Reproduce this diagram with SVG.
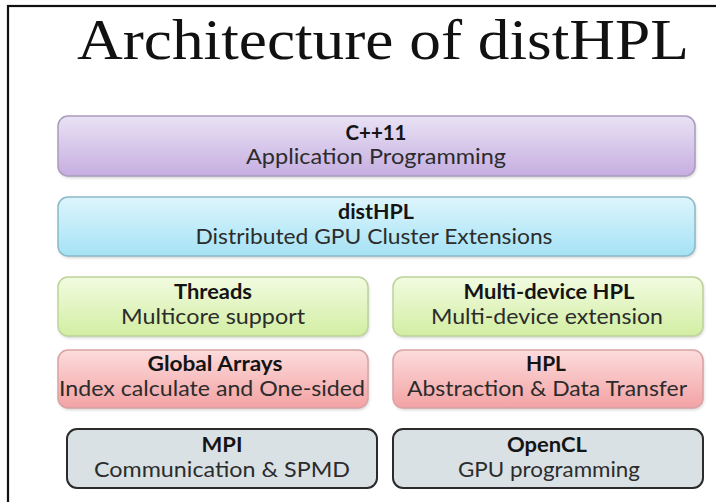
<svg xmlns="http://www.w3.org/2000/svg" width="716" height="502" viewBox="0 0 716 502">
  <defs>
    <linearGradient id="gPurple" x1="0" y1="0" x2="0" y2="1">
      <stop offset="0" stop-color="#e9e2f4"/>
      <stop offset="1" stop-color="#c6aee1"/>
    </linearGradient>
    <linearGradient id="gBlue" x1="0" y1="0" x2="0" y2="1">
      <stop offset="0" stop-color="#ddf5fc"/>
      <stop offset="1" stop-color="#a5e2f5"/>
    </linearGradient>
    <linearGradient id="gGreen" x1="0" y1="0" x2="0" y2="1">
      <stop offset="0" stop-color="#f2fbe1"/>
      <stop offset="1" stop-color="#d2eea2"/>
    </linearGradient>
    <linearGradient id="gRed" x1="0" y1="0" x2="0" y2="1">
      <stop offset="0" stop-color="#fcdcdc"/>
      <stop offset="1" stop-color="#f3a2a4"/>
    </linearGradient>
    <filter id="soft" x="-5%" y="-10%" width="110%" height="130%">
      <feGaussianBlur stdDeviation="1.5"/>
    </filter>
  </defs>
  <style>
    .frame { fill: #ffffff; stroke: #111111; stroke-width: 2.2; }
    .title { font-family: "Liberation Serif", "DejaVu Serif", serif; font-size: 57px; fill: #111111; }
    .shadow { fill: #9a9a9a; opacity: 0.45; filter: url(#soft); }
    .purple { fill: url(#gPurple); stroke: #a99cbc; stroke-width: 1.5; }
    .blue { fill: url(#gBlue); stroke: #8bb9c6; stroke-width: 1.5; }
    .green { fill: url(#gGreen); stroke: #bcd39b; stroke-width: 1.5; }
    .red { fill: url(#gRed); stroke: #d9a2a4; stroke-width: 1.5; }
    .gray { fill: #d9e1e5; stroke: #2b2b2b; stroke-width: 2; }
    .head { font-family: Lato, "Liberation Sans", sans-serif; font-size: 21px; font-weight: bold; fill: #141414; text-anchor: middle; }
    .sub { font-family: Lato, "Liberation Sans", sans-serif; font-size: 22px; fill: #2c2c2c; text-anchor: middle; }
  </style>

  <!-- slide frame -->
  <rect class="frame" x="8" y="6" width="720" height="510"/>
  <text class="title" x="383" y="59" text-anchor="middle" textLength="612" lengthAdjust="spacingAndGlyphs">Architecture of distHPL</text>

  <g id="cpp11">
    <rect class="shadow" x="59" y="118" width="637" height="60" rx="10"/>
    <rect class="purple" x="58" y="116" width="637" height="60" rx="10"/>
    <text class="head" x="376" y="140" textLength="61" lengthAdjust="spacingAndGlyphs">C++11</text>
    <text class="sub" x="376" y="164" textLength="260" lengthAdjust="spacingAndGlyphs">Application Programming</text>
  </g>

  <g id="disthpl">
    <rect class="shadow" x="59" y="199" width="637" height="59" rx="10"/>
    <rect class="blue" x="58" y="197" width="637" height="59" rx="10"/>
    <text class="head" x="376" y="219" textLength="76" lengthAdjust="spacingAndGlyphs">distHPL</text>
    <text class="sub" x="374" y="244" textLength="357" lengthAdjust="spacingAndGlyphs">Distributed GPU Cluster Extensions</text>
  </g>

  <g id="threads">
    <rect class="shadow" x="59" y="279" width="310" height="59" rx="10"/>
    <rect class="green" x="58" y="277" width="310" height="59" rx="10"/>
    <text class="head" x="213" y="299" textLength="78" lengthAdjust="spacingAndGlyphs">Threads</text>
    <text class="sub" x="213" y="324" textLength="184" lengthAdjust="spacingAndGlyphs">Multicore support</text>
  </g>

  <g id="multidevice">
    <rect class="shadow" x="394" y="279" width="310" height="59" rx="10"/>
    <rect class="green" x="393" y="277" width="310" height="59" rx="10"/>
    <text class="head" x="549" y="299" textLength="171" lengthAdjust="spacingAndGlyphs">Multi-device HPL</text>
    <text class="sub" x="547" y="324" textLength="232" lengthAdjust="spacingAndGlyphs">Multi-device extension</text>
  </g>

  <g id="globalarrays">
    <rect class="shadow" x="59" y="352" width="310" height="58" rx="10"/>
    <rect class="red" x="58" y="350" width="310" height="58" rx="10"/>
    <text class="head" x="215" y="371" textLength="135" lengthAdjust="spacingAndGlyphs">Global Arrays</text>
    <text class="sub" x="212" y="396" textLength="306" lengthAdjust="spacingAndGlyphs">Index calculate and One-sided</text>
  </g>

  <g id="hpl">
    <rect class="shadow" x="394" y="352" width="310" height="58" rx="10"/>
    <rect class="red" x="393" y="350" width="310" height="58" rx="10"/>
    <text class="head" x="546" y="371" textLength="40" lengthAdjust="spacingAndGlyphs">HPL</text>
    <text class="sub" x="547" y="396" textLength="280" lengthAdjust="spacingAndGlyphs">Abstraction &amp; Data Transfer</text>
  </g>

  <g id="mpi">
    <rect class="gray" x="67" y="429" width="310" height="59" rx="10"/>
    <text class="head" x="222" y="452" textLength="41" lengthAdjust="spacingAndGlyphs">MPI</text>
    <text class="sub" x="222" y="477" textLength="256" lengthAdjust="spacingAndGlyphs">Communication &amp; SPMD</text>
  </g>

  <g id="opencl">
    <rect class="gray" x="393" y="429" width="310" height="59" rx="10"/>
    <text class="head" x="547" y="452" textLength="80" lengthAdjust="spacingAndGlyphs">OpenCL</text>
    <text class="sub" x="549" y="477" textLength="182" lengthAdjust="spacingAndGlyphs">GPU programming</text>
  </g>

  <!-- the layers are stacked directly; there are no connectors -->
  <g id="connectors"/>
</svg>
